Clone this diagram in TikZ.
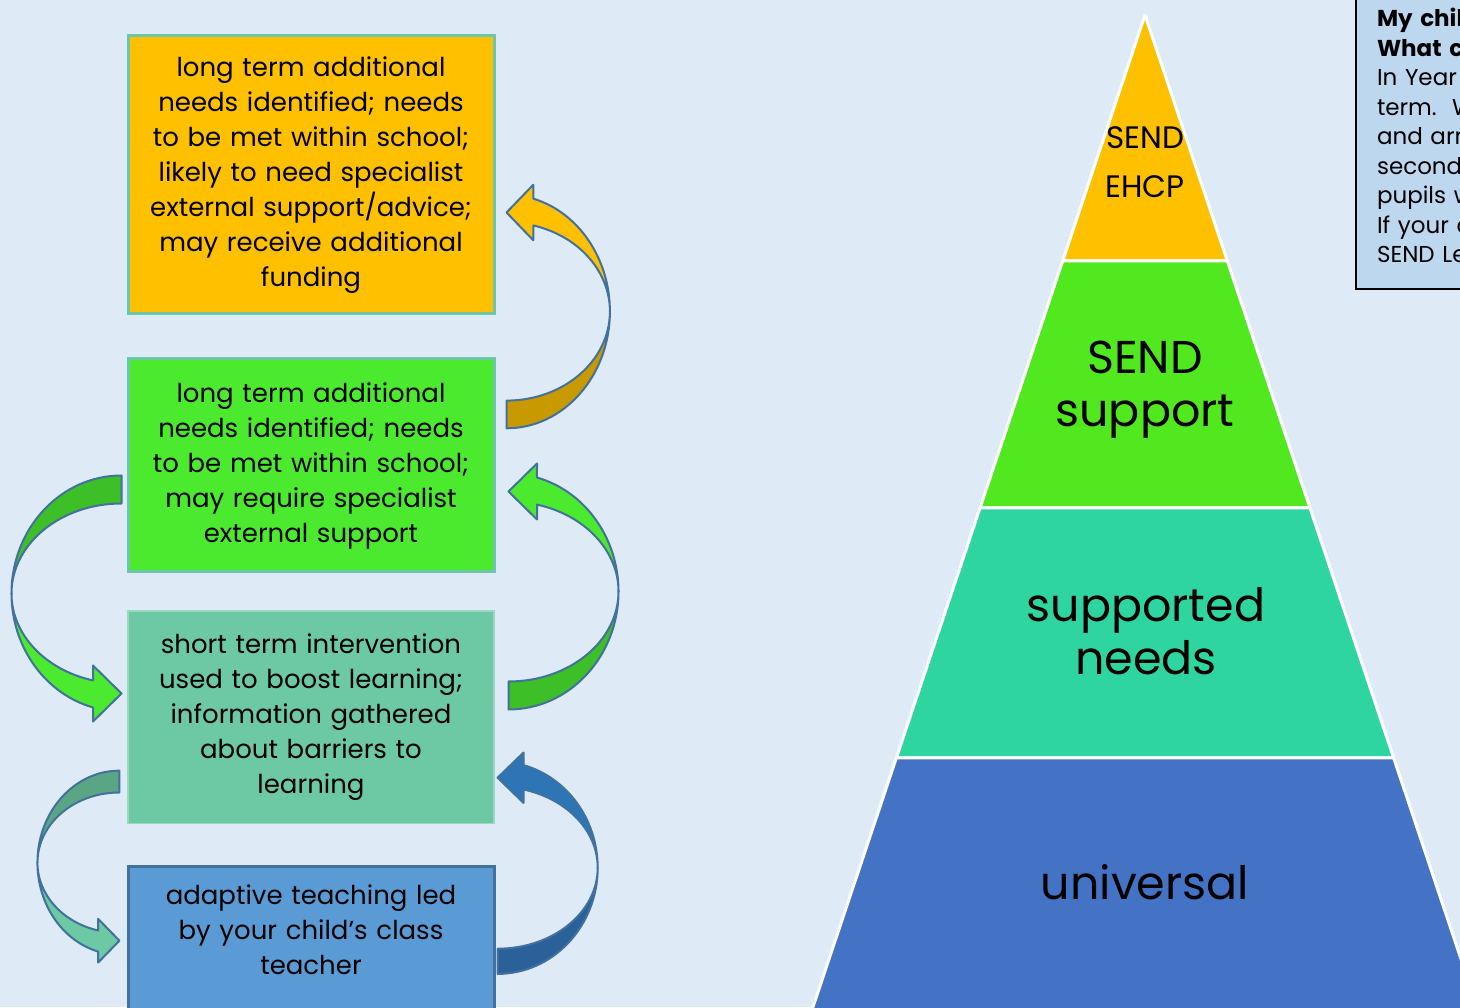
\documentclass[tikz,border=0pt]{standalone}
\usepackage{fontspec}
\setmainfont{Poppins}
\usetikzlibrary{positioning, calc}

\definecolor{paper}{HTML}{DEEAF6}
\definecolor{amber}{HTML}{FFC000}
\definecolor{amberdark}{HTML}{C99A00}
\definecolor{lime}{HTML}{4BEA2E}
\definecolor{limedark}{HTML}{3DBF27}
\definecolor{mint}{HTML}{6CC9A4}
\definecolor{mintdark}{HTML}{5AA684}
\definecolor{sky}{HTML}{5B9BD5}
\definecolor{navy}{HTML}{2E75B6}
\definecolor{navydark}{HTML}{2A6199}
\definecolor{arrowedge}{HTML}{41719C}
\definecolor{tealedge}{HTML}{6CC6A9}
\definecolor{pyrgreen}{HTML}{52E81F}
\definecolor{pyrteal}{HTML}{2FD5A1}
\definecolor{pyrblue}{HTML}{4472C4}
\definecolor{notefill}{HTML}{BDD7EE}

\tikzset{stagebox/.style = {draw, line width = 1.5pt, text width = 175pt,
                            align = center, inner xsep = 4pt,
                            font = \fontsize{13}{17.5}\selectfont},
         arrowline/.style = {draw = arrowedge, line width = 1pt, line join = round},
         layer/.style = {draw = white, line width = 1.5pt, line join = round},
         layertext/.style = {align = center, font = \fontsize{23}{26.5}\selectfont}}

% bent block arrow: tail below, bulge to the right, head pointing left
% #1 origin, #2 extra transforms, #3 head colour, #4 tail colour
\newcommand{\bentarrow}[4]{%
  \begin{scope}[shift = {#1}, #2]
    \filldraw[arrowline, fill = #4] (0,-118)
      arc[start angle = 270, end angle = 360, x radius = 110, y radius = 118]
      arc[start angle = 0, end angle = -90, x radius = 110, y radius = 90] -- cycle;
    \filldraw[arrowline, fill = #3] (110,0)
      arc[start angle = 0, end angle = 75, x radius = 110, y radius = 118]
      -- (28.5,128) -- (0,100) -- (28.5,72) -- (28.5,86.9)
      arc[start angle = 75, end angle = 0, x radius = 110, y radius = 90] -- cycle;
  \end{scope}}

\begin{document}
\begin{tikzpicture}[x = 0.5pt, y = 0.5pt]
  \fill[paper] (0,0) rectangle (1460,1007);
  \useasboundingbox (0,0) rectangle (1460,1007);

  % stages on the left
  \node[stagebox, fill = amber, draw = tealedge, minimum height = 139pt] (longfunded) at (311,832)
    {long term additional\\ needs identified; needs\\ to be met within school;\\ likely to need specialist\\ external support/advice;\\ may receive additional\\ funding};
  \node[stagebox, fill = lime, draw = tealedge, minimum height = 106.5pt] (longterm) [below = 21pt of longfunded]
    {long term additional\\ needs identified; needs\\ to be met within school;\\ may require specialist\\ external support};
  \node[stagebox, fill = mint, draw = mint!70!white, line width = 0.6pt, minimum height = 106pt] (shortterm) [below = 18.5pt of longterm]
    {short term intervention\\ used to boost learning;\\ information gathered\\ about barriers to\\ learning};
  \node[stagebox, fill = sky, draw = arrowedge, minimum height = 86pt, text depth = 58pt] (adaptive) [below = 20.5pt of shortterm]
    {adaptive teaching led\\ by your child's class\\ teacher};

  % arrows between the stages
  \bentarrow{($(longfunded.south east)+(11,4)$)}{xscale = 0.94, yscale = 0.99}{amber}{amberdark}
  \bentarrow{($(longterm.south east)+(13,-18)$)}{}{lime}{limedark}
  \bentarrow{($(longterm.south west)+(-5,-20)$)}{rotate = 180}{lime}{limedark}
  \bentarrow{($(shortterm.south west)+(-8,-39)$)}{rotate = 180, xscale = 0.745, yscale = 0.78}{mint}{mintdark}
  \bentarrow{($(shortterm.south east)+(3,-44)$)}{xscale = 0.91, yscale = 0.9}{navy}{navydark}

  % pyramid
  \coordinate (apex) at (1145,992);
  \coordinate (bl) at (810.3,-8);
  \coordinate (br) at (1479.7,-8);
  \coordinate (l1) at ($(apex)!0.246!(bl)$);
  \coordinate (r1) at ($(apex)!0.246!(br)$);
  \coordinate (l2) at ($(apex)!0.493!(bl)$);
  \coordinate (r2) at ($(apex)!0.493!(br)$);
  \coordinate (l3) at ($(apex)!0.743!(bl)$);
  \coordinate (r3) at ($(apex)!0.743!(br)$);
  \filldraw[layer, fill = amber] (apex) -- (r1) -- (l1) -- cycle;
  \filldraw[layer, fill = pyrgreen] (l1) -- (r1) -- (r2) -- (l2) -- cycle;
  \filldraw[layer, fill = pyrteal] (l2) -- (r2) -- (r3) -- (l3) -- cycle;
  \filldraw[layer, fill = pyrblue] (l3) -- (r3) -- (br) -- (bl) -- cycle;

  \node[align = center, font = \fontsize{15.5}{24.5}\selectfont] (ehcp) at (1145,845) {SEND\\EHCP};
  \node[layertext] (sendsupport) at (1145,617) {SEND\\support};
  \node[layertext] (supported) at (1146,376) {supported\\needs};
  \node[layertext] (universal) at (1145,125) {universal};

  % note box, top right
  \node[draw, line width = 1pt, fill = notefill, anchor = south west, text width = 150pt,
        align = left, inner xsep = 10.5pt, inner ysep = 13pt,
        font = \fontsize{11.5}{14.75}\selectfont] (note) at (1355,717)
    {\textbf{My chil}\\ \textbf{What co}\\ In Year\\ term.\ \ W\\ and arr\\ second\\ pupils w\\ If your c\\ SEND Le};
\end{tikzpicture}
\end{document}
